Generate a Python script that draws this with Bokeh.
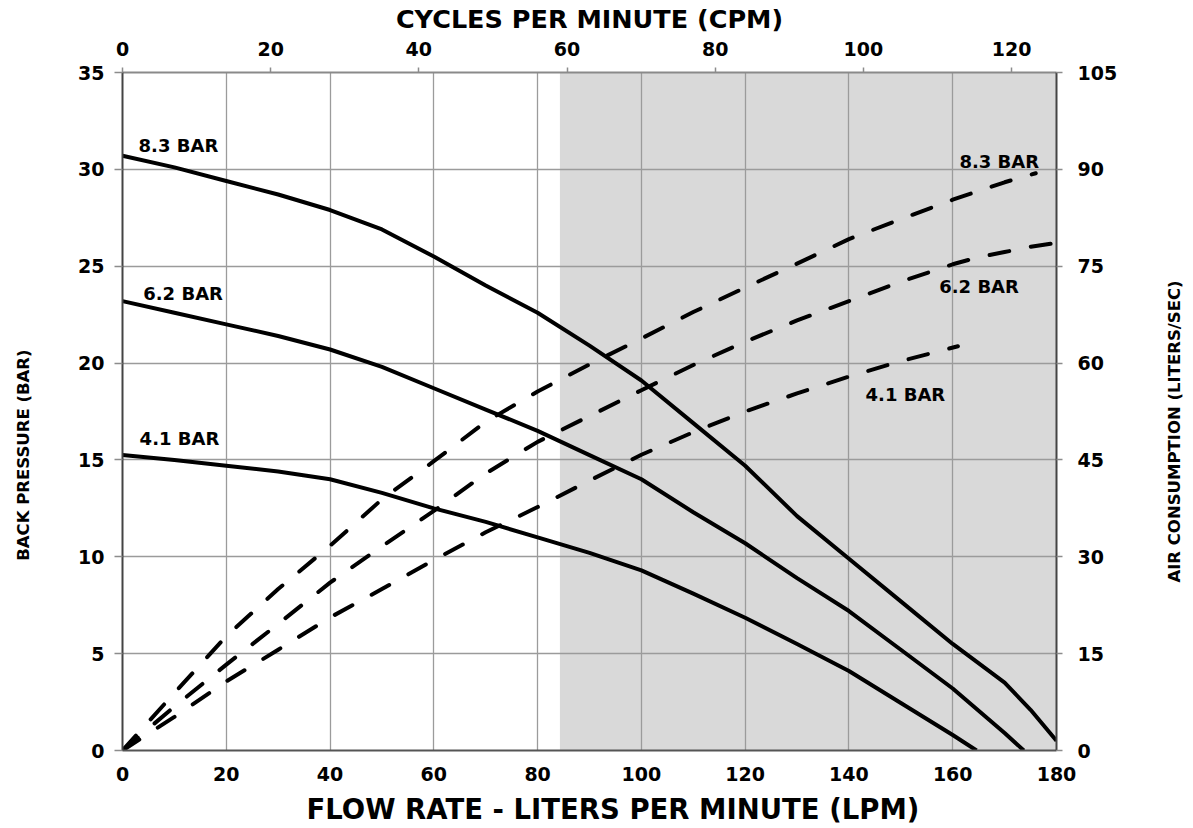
import math
from bokeh.plotting import figure
from bokeh.models import Range1d, LinearAxis, FixedTicker, BoxAnnotation, Label, Title
from bokeh.embed import file_html
from bokeh.resources import INLINE

# ---------------- data ----------------
# Back pressure (bar) vs flow rate (LPM), solid curves
lpm_bp_83 = [0, 10, 20, 30, 40, 50, 60, 70, 80, 90, 100, 110, 120, 130, 140, 150, 160, 170, 175, 180]
bp_83 = [30.7, 30.1, 29.4, 28.7, 27.9, 26.9, 25.5, 24.0, 22.6, 20.9, 19.1, 16.9, 14.7, 12.1, 9.9, 7.7, 5.5, 3.5, 2.1, 0.5]

lpm_bp_62 = [0, 10, 20, 30, 40, 50, 60, 70, 80, 90, 100, 110, 120, 130, 140, 150, 160, 170, 173.7]
bp_62 = [23.2, 22.6, 22.0, 21.4, 20.7, 19.8, 18.7, 17.6, 16.5, 15.25, 14.0, 12.3, 10.7, 8.9, 7.2, 5.2, 3.2, 0.9, 0.0]

lpm_bp_41 = [0, 10, 20, 30, 40, 50, 60, 70, 80, 90, 100, 110, 120, 130, 140, 150, 160, 164.6]
bp_41 = [15.25, 15.0, 14.7, 14.4, 14.0, 13.3, 12.5, 11.8, 11.0, 10.2, 9.3, 8.1, 6.85, 5.5, 4.1, 2.45, 0.8, 0.0]

# Air consumption (liters/sec) vs flow rate (LPM), dashed curves
lpm_air_83 = [0, 10, 20, 30, 40, 50, 60, 70, 80, 90, 100, 110, 120, 130, 140, 150, 160, 170, 176]
air_83 = [0, 8.9, 17.7, 25.0, 31.7, 38.9, 44.8, 50.9, 55.6, 59.8, 63.8, 67.9, 71.7, 75.4, 79.2, 82.3, 85.3, 88.0, 89.4]

lpm_air_62 = [0, 10, 20, 30, 40, 50, 60, 70, 80, 90, 100, 110, 120, 130, 140, 150, 160, 165, 170, 175, 180]
air_62 = [0, 6.8, 13.3, 19.6, 26.0, 31.6, 37.1, 42.9, 47.8, 51.8, 55.8, 59.7, 63.3, 66.6, 69.6, 72.6, 75.3, 76.4, 77.2, 78.0, 78.6]

lpm_air_41 = [0, 10, 20, 30, 40, 50, 60, 70, 80, 90, 100, 110, 120, 130, 140, 150, 161]
air_41 = [0, 5.2, 10.7, 15.6, 20.6, 25.0, 29.5, 33.8, 37.7, 41.8, 45.8, 49.3, 52.5, 55.3, 57.9, 60.3, 62.6]

shade_start_lpm = 84.3

x_ticks = [0, 20, 40, 60, 80, 100, 120, 140, 160, 180]
y_ticks = [0, 5, 10, 15, 20, 25, 30, 35]
cpm_ticks = [0, 20, 40, 60, 80, 100, 120]
lps_ticks = [0, 15, 30, 45, 60, 75, 90, 105]

series_labels = ["8.3 BAR", "6.2 BAR", "4.1 BAR"]
title_top = "CYCLES PER MINUTE (CPM)"
title_bottom = "FLOW RATE - LITERS PER MINUTE (LPM)"
title_left = "BACK PRESSURE  (BAR)"
title_right = "AIR CONSUMPTION  (LITERS/SEC)"

FONT = "DejaVu Sans"

# ---------------- figure ----------------
p = figure(frame_width=934, frame_height=678,
           x_range=Range1d(0, 180), y_range=Range1d(0, 35),
           output_backend="svg", toolbar_location=None,
           min_border_left=122, min_border_right=137,
           min_border_top=72, min_border_bottom=76,
           background_fill_color="white", border_fill_color="white")
p.outline_line_color = None
p.extra_x_ranges = {"cpm": Range1d(0, 126.07)}
p.extra_y_ranges = {"lps": Range1d(0, 105)}


def style_axis(ax, tick_out, standoff, line_color, size="19px"):
    ax.major_label_text_font = FONT
    ax.major_label_text_font_style = "bold"
    ax.major_label_text_font_size = size
    ax.major_label_text_color = "black"
    ax.major_tick_out = tick_out
    ax.major_tick_in = 0
    ax.minor_tick_out = 0
    ax.minor_tick_in = 0
    ax.major_tick_line_color = "#8c8c8c" if tick_out else None
    ax.major_tick_line_width = 1.5
    ax.axis_line_color = line_color
    ax.axis_line_width = 2
    ax.major_label_standoff = standoff
    ax.axis_label_text_font = FONT
    ax.axis_label_text_font_style = "bold"
    ax.axis_label_text_color = "black"


bottom = p.xaxis[0]
bottom.ticker = FixedTicker(ticks=x_ticks)
style_axis(bottom, 0, 16, "#555555")

left = p.yaxis[0]
left.ticker = FixedTicker(ticks=y_ticks)
style_axis(left, 8, 10, "#444444")

top = LinearAxis(x_range_name="cpm", ticker=FixedTicker(ticks=cpm_ticks))
style_axis(top, 5, 12, "#8a8a8a")
top.axis_label = title_top
top.axis_label_text_font_size = "25.5px"
top.axis_label_standoff = 5
p.add_layout(top, "above")

right = LinearAxis(y_range_name="lps", ticker=FixedTicker(ticks=lps_ticks))
style_axis(right, 6, 15, "#444444")
p.add_layout(right, "right")

# side titles: rotated single labels on line-less, tick-less axes
left_title_axis = LinearAxis(ticker=FixedTicker(ticks=[21]))
style_axis(left_title_axis, 0, 52, None, size="16.5px")
left_title_axis.major_label_overrides = {21: title_left}
left_title_axis.major_label_orientation = math.pi / 2
p.add_layout(left_title_axis, "left")

right_title_axis = LinearAxis(y_range_name="lps", ticker=FixedTicker(ticks=[26]))
style_axis(right_title_axis, 0, 54, None, size="16.5px")
right_title_axis.major_label_overrides = {26: title_right}
right_title_axis.major_label_orientation = math.pi / 2
p.add_layout(right_title_axis, "right")

p.add_layout(Title(text=title_bottom, align="left", offset=184,
                   vertical_align="top", standoff=18,
                   text_font=FONT, text_font_style="bold",
                   text_font_size="27.5px", text_color="black"), "below")

p.xgrid.ticker = FixedTicker(ticks=x_ticks)
p.ygrid.ticker = FixedTicker(ticks=y_ticks)
for g in (p.xgrid, p.ygrid):
    g.grid_line_color = "#9b9b9b"
    g.grid_line_width = 1.3

shade = BoxAnnotation(left=shade_start_lpm, right=180, bottom=0, top=35,
                      fill_color="#d9d9d9", fill_alpha=1.0, line_color=None,
                      level="image")
p.add_layout(shade)

# solid back-pressure curves
for xs, ys in ((lpm_bp_83, bp_83), (lpm_bp_62, bp_62), (lpm_bp_41, bp_41)):
    p.line(xs, ys, line_color="black", line_width=4, line_join="round")

# dashed air-consumption curves
for xs, ys in ((lpm_air_83, air_83), (lpm_air_62, air_62), (lpm_air_41, air_41)):
    p.line(xs, ys, y_range_name="lps", line_color="black", line_width=4,
           line_dash="20 22", line_cap="round", line_join="round")


def add_label(text, x, y, size, align="left"):
    p.add_layout(Label(x=x, y=y, text=text,
                       text_font=FONT, text_font_style="bold",
                       text_font_size=size, text_color="black",
                       text_align=align, text_baseline="middle"))


# curve labels
add_label(series_labels[0], 3.1, 31.23, "18px")
add_label(series_labels[1], 4.0, 23.57, "18px")
add_label(series_labels[2], 3.3, 16.1, "18px")
add_label(series_labels[0], 161.3, 30.43, "18px")
add_label(series_labels[1], 157.4, 23.95, "18px")
add_label(series_labels[2], 143.2, 18.4, "18px")

open("out.html", "w").write(file_html(p, INLINE))
